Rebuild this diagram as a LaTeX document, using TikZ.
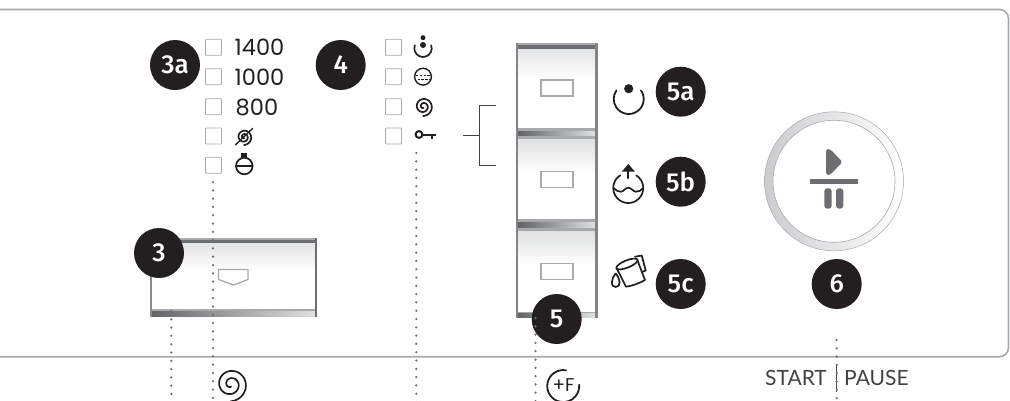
\documentclass[tikz,border=0pt]{standalone}
\usepackage{fontspec}
\setmainfont{Poppins}
\newfontfamily\labelfont{Lato}
\newfontfamily\badgefont{Fira Sans Medium}
\usetikzlibrary{calc}
\definecolor{ink}{HTML}{231F20}
\definecolor{steel}{HTML}{6D6E71}
\definecolor{edge}{HTML}{A7A9AC}
\definecolor{paleg}{HTML}{DFE0E1}
\tikzset{
  x=1pt,y=-1pt,
  badge/.style={circle,fill=ink,text=white,minimum size=50pt,inner sep=0pt,font=\badgefont\fontsize{26}{26}\selectfont},
  checkbox/.style={draw=edge,line width=.8pt,minimum size=16pt,inner sep=0pt,rounded corners=.6pt},
  speedtext/.style={anchor=west,inner sep=0pt,text=ink,font=\fontsize{22.5}{22.5}\selectfont},
  dots/.style={line width=2.5pt,color=steel,line cap=round,dash pattern=on 0pt off 8.3pt},
  icon/.style={draw=ink,line width=1.7pt,line cap=round,line join=round},
  slot/.style={draw=edge,line width=1.3pt,fill=white},
  brack/.style={draw=ink!85,line width=1pt},
  spiralpic/.pic={
    \draw[icon,pic actions] plot[smooth,samples=60,domain=30:760,variable=\t]
      ({(1+9*\t/760)*cos(\t+50)},{(1+9*\t/760)*sin(\t+50)});
  }
}
\newcommand{\keyshade}[4]{% x1 y1 x2 y2
  \fill[white] (#1,#2) rectangle (#3,#4);
  \shade[top color=paleg,bottom color=white] (#1,#2) rectangle (#3,{#2+(#4-#2)*.42});
}
\newcommand{\bandlr}[4]{%
  \shade[left color=steel!90!black,right color=paleg] (#1,#2) rectangle (#3,#4);
}
\begin{document}
\begin{tikzpicture}
\useasboundingbox (0,0) rectangle (1010,400);
\begin{scope}
\clip (0,0) rectangle (1010,400);
% panel
\draw[edge,line width=1.6pt,rounded corners=9pt] (-5,9.5) -- (1008.5,9.5) -- (1008.5,356.7) -- (-5,356.7);

% button 3
\keyshade{150}{239}{316}{316}
\fill[edge] (149.5,238) rectangle (316.5,240);
\fill[steel] (149.5,240) rectangle (316.5,243);
\fill[edge] (150,309) rectangle (316,311);
\bandlr{150}{311}{316}{316.5}
\fill[steel!80] (149.5,240) rectangle (152,316.5);
\fill[steel] (314.5,238) rectangle (316.7,316.5);
\draw[edge,line width=1.3pt,line join=miter] (218.5,269.5) -- (248,269.5) -- (248,279.5) -- (233.5,285) -- (218.5,279.5) -- cycle;

% button column 5
\keyshade{516}{44}{597}{128}
\keyshade{516}{139}{597}{220}
\keyshade{516}{231}{597}{312}
\fill[edge] (516,43.3) rectangle (597,44.8);
\fill[steel] (516,44.8) rectangle (597,48.5);
\fill[edge] (518,128) rectangle (595,131);
\bandlr{518}{131}{595}{136}
\fill[edge] (518,136) rectangle (595,139);
\fill[edge] (518,219.3) rectangle (595,222);
\bandlr{518}{222}{595}{228}
\fill[edge] (518,228) rectangle (595,231);
\fill[edge] (518,311.5) rectangle (595,313);
\bandlr{518}{313}{595}{317.5}
\fill[steel!85] (515.7,43.3) rectangle (518.3,317.5);
\fill[steel!85] (595,43.3) rectangle (597.5,317.5);
\node[slot,minimum width=32pt,minimum height=16pt,inner sep=0pt] (slotA) at (557,88) {};
\node[slot,minimum width=32pt,minimum height=16pt,inner sep=0pt] (slotB) at (557,179.7) {};
\node[slot,minimum width=32pt,minimum height=16pt,inner sep=0pt] (slotC) at (557,271.3) {};

% start button
\shade[left color=edge!60,right color=white] (834,181.3) circle (69.5);
\draw[edge,line width=.5pt] (834,181.3) circle (69.5);
\draw[edge,line width=.6pt,fill=white] (834,181.3) circle (61);
\fill[steel,rounded corners=2.5pt] (826,149) -- (830,149) -- (842.5,162) -- (830,175) -- (826,175) -- cycle;
\fill[steel] (810,179) rectangle (858,183.7);
\fill[steel,rounded corners=3pt] (824.3,188.3) rectangle (831.7,208.7);
\fill[steel,rounded corners=3pt] (836,188.3) rectangle (843.3,208.7);

% checkboxes and texts
\foreach \n/\y in {a/47.3,b/76.7,c/106.7,d/136,e/165.3}{
  \node[checkbox] (cb\n) at (213.5,\y) {};
}
\foreach \n/\y in {a/47.3,b/76.7,c/106.7,d/136}{
  \node[checkbox] (cc\n) at (393.5,\y) {};
}
\node[speedtext] (s1400) at (234.5,47.5) {1400};
\node[speedtext] (s1000) at (234.5,77) {1000};
\node[speedtext] (s800) at (235.5,107) {800};

% icons col 1
\pic[scale=.8] at (244,137) {spiralpic};
\draw[icon,line width=1.3pt] (235.3,145) -- (252.7,128.3);
\fill[ink] (241.3,153.3) rectangle (247.3,158.3);
\draw[icon] (244.3,166) circle (8.3);
\draw[icon] (236,166) -- (252.6,166);

% icons col 2
\draw[icon] (431.2,45.3) arc (-20:200:8.7);
\fill[ink] (423,37.7) circle (2.5);
\fill[ink] (423,45) circle (3);
\draw[icon,line width=1.4pt] (423,76.7) circle (8.4);
\draw[icon,line width=1pt,dash pattern=on 2.4pt off 1.4pt,line cap=butt] (416,75.5) -- (430,75.5);
\draw[icon,line width=1pt,dash pattern=on 2.4pt off 1.4pt,line cap=butt] (417.5,79.3) -- (429,79.3);
\pic[scale=.95] at (423.3,106.5) {spiralpic};
\draw[ink,line width=2pt] (419,134.5) circle (3.4);
\draw[ink,line width=2pt] (422,134.5) -- (435.7,134.5);
\draw[ink,line width=2pt] (432,134.5) -- (432,138.5);

% icons column 5
\draw[icon,line width=1.8pt] (641,90.4) arc (-35:215:15);
\fill[ink] (628.7,88.7) circle (4.6);

\draw[icon,line width=1.7pt] (620.3,175.3) arc (238:-58:15);
\draw[icon] (614,188.3) .. controls (616,190.5) and (618,191.7) .. (620.7,191.7) .. controls (624,191.7) and (625,187.7) .. (628.3,187.7) .. controls (631.5,187.7) and (633,191.7) .. (636,191.7) .. controls (639,191.7) and (641,190.5) .. (642.7,188.3);
\draw[icon] (628.3,170) -- (628.3,178.3);
\fill[ink] (621.7,171.7) -- (628.3,164) -- (635,171.7) -- cycle;

% jug
\draw[icon] (616.7,268.3) -- (626,286.7) .. controls (632,286) and (640,283) .. (645,280) -- (637.3,260);
\draw[icon,rotate around={22:(627,264)}] (627,264) ellipse (11.5 and 3.6);
\draw[icon] (635,256.7) -- (641.7,255.5) -- (645.7,270.5) -- (642,272);
\draw[icon] (615.7,273.5) .. controls (611,279) and (610,287) .. (615.7,287) .. controls (621.4,287) and (620.4,279) .. (615.7,273.5);

% bracket
\coordinate (brA) at (495.7,105);
\coordinate (brB) at (495.7,165.7);
\coordinate (brM) at (479.3,135.3);
\coordinate (brS) at (462.7,135.3);
\draw[brack] (brA) -- (479.3,105) -- (479.3,165.7) -- (brB);
\draw[brack] (brS) -- (brM);

% bottom symbols
\pic[scale=1.7,line width=2.3pt] at (230.7,384.3) {spiralpic};
\draw[icon,line width=1.8pt] (566,370.3) arc (280:-5:16);
\node[inner sep=0pt,text=ink,font=\fontsize{18.5}{18.5}\selectfont] (plusF) at (563.5,385.5) {+F};

% start pause label
\node[inner sep=0pt,anchor=base east,text=ink!85,font=\labelfont\fontsize{21}{21}\selectfont] (startT) at (827,385) {START};
\node[inner sep=0pt,anchor=base west,text=ink!85,font=\labelfont\fontsize{21}{21}\selectfont] (pauseT) at (844,385) {PAUSE};
\draw[ink!80,line width=1pt] (836,364) -- (836,392);

% badges
\node[badge] (b3a) at (175,65) {3a};
\node[badge] (b4) at (340.7,65) {4};
\node[badge] (b3) at (159,253) {3};
\node[badge] (b5a) at (680.7,91.7) {5a};
\node[badge] (b5b) at (680.7,181.7) {5b};
\node[badge] (b5c) at (680.7,284) {5c};
\node[badge] (b5) at (556.7,319) {5};
\node[badge] (b6) at (836.7,284) {6};

% dotted leaders
\coordinate (d1a) at (171.3,311); \coordinate (d1b) at (171.3,402);
\coordinate (d2a) at (213,182); \coordinate (d2b) at (213,402);
\coordinate (d3a) at (416.3,153); \coordinate (d3b) at (416.3,402);
\coordinate (d4a) at (535.5,318); \coordinate (d4b) at (535.5,402);
\coordinate (d5a) at (836.7,340); \coordinate (d5b) at (836.7,402);
\draw[dots] (d1a) -- (d1b);
\draw[dots] (d2a) -- (d2b);
\draw[dots] (d3a) -- (d3b);
\draw[dots] (d4a) -- (d4b);
\draw[dots] (d5a) -- (d5b);
\end{scope}
\end{tikzpicture}
\end{document}
